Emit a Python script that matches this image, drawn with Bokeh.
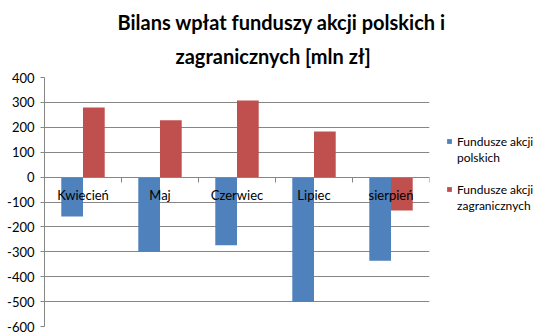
from bokeh.plotting import figure
from bokeh.models import (Range1d, LinearAxis, FixedTicker, Legend, LegendItem, Title,
                          ColumnDataSource)
from bokeh.transform import dodge
from bokeh.embed import file_html
from bokeh.resources import INLINE

months = ["Kwiecień", "Maj", "Czerwiec", "Lipiec", "sierpień"]
polskie = [-158, -300, -274, -502, -336]
zagraniczne = [280, 228, 308, 183, -134]
series_names = [["Fundusze akcji", "polskich"], ["Fundusze akcji", "zagranicznych"]]
title_lines = ["Bilans wpłat funduszy akcji polskich i", "zagranicznych [mln zł]"]
y_ticks = list(range(-600, 401, 100))

FONT = "Lato"
GRAY = "#868686"
BLUE = "#4F81BD"
RED = "#C0504D"

n = len(months)
centers = [i + 0.5 for i in range(n)]
edges = list(range(n + 1))
src = ColumnDataSource(dict(x=centers, month=months, pl=polskie, zg=zagraniczne))

p = figure(frame_width=385, frame_height=249, x_range=Range1d(0, n), y_range=Range1d(-600, 400),
           output_backend="svg", toolbar_location=None, x_axis_location=None,
           title_location=None,
           min_border_left=44, min_border_right=128, min_border_top=77, min_border_bottom=10)
p.outline_line_color = None
p.background_fill_color = "white"

bw = 0.282
r1 = p.vbar(x=dodge('x', -bw / 2), top='pl', bottom=0, width=bw,
            source=src, fill_color=BLUE, line_color=None)
r2 = p.vbar(x=dodge('x', bw / 2), top='zg', bottom=0, width=bw,
            source=src, fill_color=RED, line_color=None)

p.xgrid.visible = False
p.ygrid.ticker = FixedTicker(ticks=y_ticks)
p.ygrid.grid_line_color = GRAY
p.ygrid.level = "underlay"

ya = p.yaxis[0]
ya.ticker = FixedTicker(ticks=y_ticks)
ya.major_label_overrides = {t: str(t) for t in y_ticks}
ya.axis_line_color = GRAY
ya.major_tick_line_color = GRAY
ya.major_tick_out = 4
ya.major_tick_in = 0
ya.minor_tick_line_color = None
ya.major_label_standoff = 6
ya.major_label_text_font = FONT
ya.major_label_text_font_size = "13px"
ya.major_label_text_color = "black"

xa = LinearAxis(fixed_location=0, ticker=FixedTicker(ticks=centers, minor_ticks=edges),
                major_label_overrides={c: m for c, m in zip(centers, months)},
                axis_line_color=GRAY, major_tick_line_color=None,
                minor_tick_line_color=GRAY, minor_tick_out=5, minor_tick_in=0,
                major_label_standoff=4, major_label_text_font=FONT,
                major_label_text_font_size="13px", major_label_text_color="black")
p.add_layout(xa, "below")

# title: second line closest to the frame, first line above it
for text, off, so, va in [(title_lines[1], 131, 18, "middle"),
                          (title_lines[0], 73, 0, "bottom")]:
    p.add_layout(Title(text=text, align="left", offset=off, standoff=so, vertical_align=va,
                       text_font=FONT, text_font_style="bold", text_font_size="20px",
                       text_color="black"), "above")

items = []
for k, (names, r) in enumerate(zip(series_names, [r1, r2])):
    if k > 0:
        items.append(LegendItem(label="", renderers=[]))
    items.append(LegendItem(label=names[0], renderers=[r]))
    items.append(LegendItem(label=names[1], renderers=[]))

legend = Legend(items=items, location=(17, 113), glyph_width=6, glyph_height=6,
                label_standoff=5, label_height=16, spacing=0, padding=0, margin=0,
                border_line_color=None, background_fill_alpha=0, label_text_font=FONT,
                label_text_font_size="12px", label_text_color="black",
                label_text_baseline="top")
p.add_layout(legend, "right")

open("out.html", "w").write(file_html(p, INLINE))
